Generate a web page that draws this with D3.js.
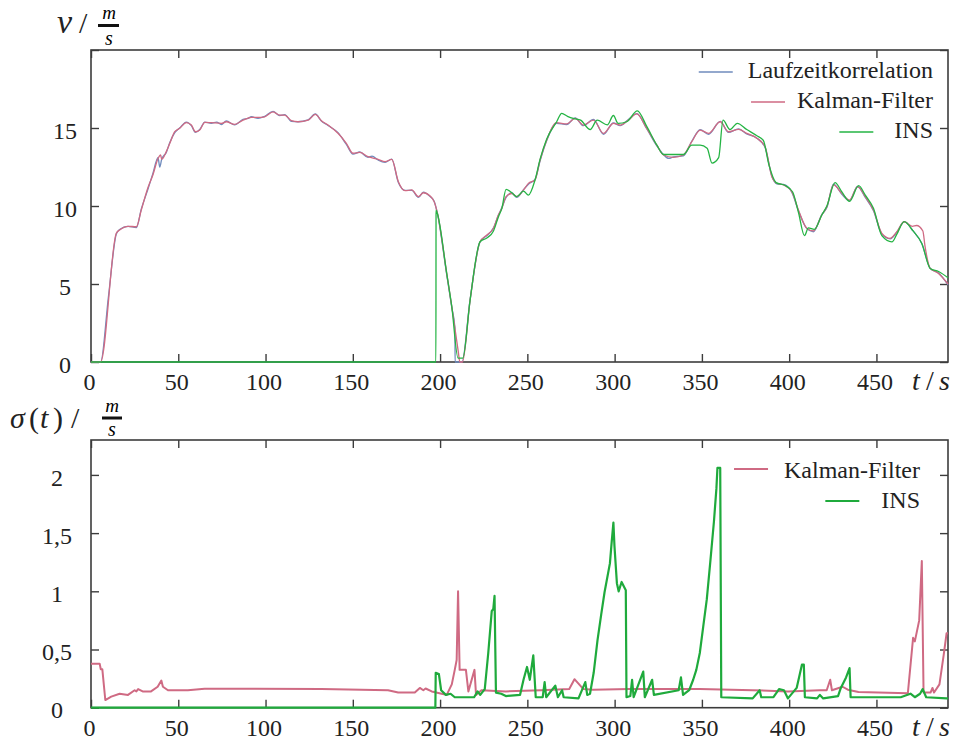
<!DOCTYPE html>
<html>
<head>
<meta charset="utf-8">
<script src="https://cdn.jsdelivr.net/npm/d3@7"></script>
<style>
  body { margin: 0; background: #fff; }
</style>
</head>
<body>
<svg id="chart" width="954" height="742" font-family="'Liberation Serif', serif"></svg>
<script>
// tick values
var xTicks = [0, 50, 100, 150, 200, 250, 300, 350, 400, 450]
var vTicks = [0, 5, 10, 15, 20]
var vTickLabels = ["0", "5", "10", "15", ""]
var sTicks = [0, 0.5, 1, 1.5, 2]
var sTickLabels = ["0", "0,5", "1", "1,5", "2"]

// top panel: v in m/s over t in s  [t, v]
var vLaufzeit = [[0,0],[5.5,0],[10,4.2],[14.5,8.2],[16.4,8.5],[21.2,8.7],[26,8.62],[28.8,9.8],[32.7,11.1],[35.5,12.1],[38.4,13.1],[39.4,12.5],[40.5,13.0],[43.2,13.45],[45.1,14.05],[48,14.7],[50.8,15.0],[54.6,15.38],[57.5,15.15],[59.8,14.72],[62.3,14.9],[65.2,15.38],[68.9,15.3],[72,15.38],[74.7,15.22],[77.5,15.45],[82.3,15.2],[87.1,15.55],[90,15.62],[91.9,15.72],[95.7,15.62],[99.5,15.75],[104.3,16.06],[108.1,15.8],[111,15.86],[114.8,15.42],[118.6,15.4],[124.4,15.52],[128.5,15.9],[132,15.45],[135.8,15.16],[141.5,14.7],[146.3,13.95],[150.1,13.33],[154,13.46],[158.7,13.12],[161,13.2],[164.5,12.95],[168.5,12.8],[172.3,13.0],[176.1,11.5],[179.9,11.0],[183.8,11.0],[187.6,10.55],[190.4,10.88],[194.3,10.6],[196.6,10.3],[198.5,9.5],[203.8,5.6],[206.7,3.5],[208.5,2.2],[208.6,0],[212.5,0],[217.2,4.0],[222.9,7.7],[226.8,8.1],[230.6,8.6],[233.4,9.4],[235.4,9.9],[237.8,10.55],[241.1,10.85],[243.9,10.55],[247.8,11.05],[250.6,11.4],[254.4,11.7],[257.3,12.9],[261.1,14.2],[266.8,15.3],[272.5,15.22],[277.4,15.65],[282.1,15.15],[287.9,15.55],[293.6,14.6],[299.3,15.32],[303.2,15.15],[307.9,15.55],[312.7,15.92],[318.4,14.95],[324.2,13.85],[328,13.3],[331,13.05],[333.7,13.15],[339.4,13.22],[344.2,14.15],[349,14.9],[353.8,14.6],[360.5,15.42],[365.2,14.72],[371,14.95],[375.7,14.62],[381.5,14.35],[386.2,13.75],[390.1,11.9],[392.9,11.42],[396.7,11.38],[401.5,10.88],[405.3,9.7],[410.1,8.55],[413.9,8.35],[418.7,9.45],[421.6,9.9],[425.4,11.4],[430.2,10.75],[434.6,10.35],[439.2,11.25],[443.6,10.55],[448.3,9.7],[453.1,8.2],[457.9,7.9],[461.7,8.32],[465.9,9.0],[471,8.4],[476,7.6],[480.8,6.0],[485.6,5.7],[491,4.95]]
var vKalman = [[0,0],[5.5,0],[14.5,8.25],[16.4,8.46],[21.2,8.7],[26,8.67],[28.8,9.74],[32.7,11.2],[35.5,12.0],[38.4,13.05],[39.9,13.27],[40.5,13.0],[43.2,13.5],[45.1,14.0],[48,14.76],[50.8,14.98],[54.6,15.34],[57.5,15.19],[59.8,14.76],[62.3,14.87],[65.2,15.36],[68.9,15.34],[74.7,15.3],[77.5,15.4],[82.3,15.23],[87.1,15.5],[91.9,15.68],[95.7,15.68],[99.5,15.72],[104.3,16.04],[108.1,15.83],[111,15.83],[114.8,15.47],[118.6,15.4],[124.4,15.5],[128.5,15.87],[132,15.47],[135.8,15.19],[141.5,14.66],[146.3,14.02],[150.1,13.38],[154,13.44],[158.7,13.16],[164.5,12.99],[168.5,12.84],[172.3,12.99],[176.1,11.56],[179.9,10.98],[183.8,11.03],[187.6,10.6],[190.4,10.85],[194.3,10.64],[196.6,10.28],[198.5,9.53],[203.8,5.68],[206.7,3.55],[210.5,0.6],[211.3,0],[212.8,0],[217.2,3.97],[222.9,7.71],[226.8,8.14],[230.6,8.57],[233.4,9.42],[235.4,9.85],[237.8,10.6],[241.1,10.8],[243.9,10.6],[247.8,11.03],[250.6,11.45],[254.4,11.67],[257.3,12.95],[261.1,14.23],[266.8,15.34],[272.5,15.26],[277.4,15.62],[282.1,15.19],[287.9,15.51],[293.6,14.66],[299.3,15.3],[303.2,15.19],[307.9,15.51],[312.7,15.9],[318.4,14.98],[324.2,13.9],[328,13.27],[333.7,13.12],[339.4,13.27],[344.2,14.12],[349,14.87],[353.8,14.66],[360.5,15.4],[365.2,14.76],[371,14.91],[375.7,14.66],[381.5,14.34],[386.2,13.8],[390.1,11.88],[392.9,11.46],[396.7,11.35],[401.5,10.92],[405.3,9.74],[410.1,8.57],[413.9,8.4],[418.7,9.42],[421.6,9.96],[425.4,11.35],[430.2,10.81],[434.6,10.38],[439.2,11.24],[443.6,10.6],[448.3,9.74],[453.1,8.25],[457.9,7.93],[461.7,8.35],[465.9,8.99],[470.5,8.7],[473,8.75],[476.6,8.4],[477.8,7.45],[480.8,6.0],[485.6,5.68],[491,5.0]]
var vIns = [[0,0],[197.6,0],[197.7,9.74],[198.5,9.5],[203.8,5.68],[206.7,3.55],[210.3,0.25],[213,0.25],[217.2,3.97],[222.9,7.71],[226.8,7.95],[230.6,8.4],[233.4,9.3],[235.4,9.85],[237.8,11.06],[241.1,10.85],[243.9,10.6],[247.8,10.95],[250.6,10.7],[254.4,11.67],[257.3,13.0],[261.1,14.3],[266.8,15.4],[269.7,15.94],[273,15.75],[276.8,15.6],[280.5,15.5],[286,14.9],[290,15.5],[295.8,15.2],[299.3,15.8],[302,15.3],[306.9,15.4],[313,16.1],[318.4,15.1],[324.2,13.9],[328,13.3],[333.7,13.3],[339.4,13.3],[344.2,13.9],[349,13.9],[353,13.7],[355.8,12.75],[359.6,13.1],[362.1,15.5],[366.1,14.9],[370.3,15.3],[375.7,14.9],[381.5,14.5],[385.2,14.2],[388.5,12.6],[392.5,11.5],[398,11.3],[402,10.9],[405.3,9.6],[408.8,8.1],[411,8.6],[414.4,8.5],[418.7,9.42],[421.6,10.0],[426.3,11.5],[430.2,10.9],[434.6,10.3],[439.8,11.3],[443.6,10.7],[448.3,9.85],[453.1,8.1],[458.9,7.7],[461.7,8.2],[465.9,9.0],[471,8.4],[476,7.6],[480.8,6.0],[485.6,5.8],[491,5.4]]

// bottom panel: sigma(t) in m/s  [t, sigma]
var sKalman = [[0,0.377],[5,0.377],[5.6,0.33],[6.5,0.33],[8.2,0.066],[11.6,0.095],[16.4,0.12],[21.2,0.11],[25,0.15],[26,0.14],[27,0.16],[29.6,0.14],[34.4,0.14],[38.2,0.18],[40.3,0.233],[41.2,0.18],[44.1,0.15],[55.5,0.15],[65.1,0.162],[93.8,0.163],[132,0.16],[170.2,0.15],[176,0.13],[185.5,0.13],[188.4,0.17],[190.4,0.15],[191.7,0.165],[195.2,0.14],[200.9,0.12],[203.8,0.11],[206.7,0.2],[208.4,0.325],[209.5,0.41],[210.3,1.0],[211.2,0.325],[214.8,0.325],[216.2,0.14],[219.7,0.325],[220.6,0.11],[223.7,0.15],[237.7,0.14],[257.9,0.15],[274,0.16],[277,0.245],[282.1,0.16],[287.6,0.155],[308.4,0.16],[348.8,0.16],[379.1,0.15],[399.3,0.14],[417.5,0.15],[421.5,0.15],[423.5,0.24],[424.5,0.15],[430.6,0.18],[433.6,0.155],[439.7,0.135],[468,0.125],[471,0.6],[472,0.57],[474.5,0.75],[476,1.26],[477,0.13],[481,0.13],[482.1,0.17],[483,0.13],[486.1,0.2],[488.5,0.45],[490.2,0.64],[491,0.64]]
var sIns = [[0,0],[197.3,0],[197.5,0.3],[199.3,0.29],[200.6,0.15],[203.3,0.11],[206,0.12],[208.4,0.09],[212.4,0.09],[219.5,0.09],[221.5,0.14],[223,0.11],[225.6,0.16],[227.6,0.47],[229.6,0.83],[230.5,0.85],[231.2,0.96],[232,0.13],[235,0.12],[237.7,0.1],[245.8,0.11],[247.8,0.24],[249.8,0.35],[251.4,0.24],[253.4,0.45],[254.8,0.09],[258.8,0.09],[259.9,0.22],[260.8,0.09],[266,0.19],[267.5,0.09],[269.9,0.15],[270.8,0.09],[279.3,0.08],[283.2,0.22],[284.3,0.11],[285.9,0.12],[288,0.3],[290.2,0.58],[292.3,0.8],[294.2,0.99],[297.3,1.24],[298.3,1.42],[299.3,1.59],[299.9,1.39],[301.3,1.07],[302.3,1.0],[304,1.08],[306.4,1.01],[306.8,0.09],[309,0.1],[310,0.24],[310.9,0.09],[316.4,0.31],[317.3,0.09],[321.5,0.24],[322.5,0.11],[336.7,0.15],[338,0.26],[339.2,0.11],[342.7,0.15],[345,0.24],[346.8,0.325],[348.8,0.47],[350.8,0.7],[352.8,0.93],[354.8,1.25],[356.9,1.6],[358.3,1.88],[358.9,2.06],[360.5,2.06],[361.1,0.09],[379.1,0.08],[383.1,0.15],[384,0.09],[391,0.09],[394.2,0.16],[397,0.15],[399.3,0.08],[404.3,0.17],[407.3,0.37],[408.4,0.37],[409,0.09],[416,0.08],[417.6,0.11],[419.5,0.08],[428,0.1],[429.6,0.17],[432.6,0.26],[434.6,0.34],[435.2,0.09],[463.9,0.09],[469.5,0.12],[472,0.09],[475,0.12],[476.5,0.16],[478.5,0.09],[490.2,0.08],[491,0.08]]

var cBlue = "#6f8bbd", cRed = "#cf6a83", cGreen = "#25b444", cGreenDark = "#1faa3c"
var axisColor = "#3c3c3c"
var serif = "'Liberation Serif', serif"

var svg = d3.select("#chart")

var x = d3.scaleLinear().domain([0, 491]).range([91, 948])
var yTop = d3.scaleLinear().domain([0, 20]).range([362, 50])
var yBot = d3.scaleLinear().domain([0, 2.3]).range([707.7, 440])

function panel(y, yTicks, yLabels, labelX){
	var x0 = x.range()[0], x1 = x.range()[1]
	var yb = y.range()[0], yt = y.range()[1]
	var g = svg.append("g")

	var gx = g.append("g").attr("transform", "translate(0," + yb + ")")
		.call(d3.axisBottom(x).tickValues(xTicks).tickSize(-8).tickPadding(11))
	g.append("g").attr("transform", "translate(0," + yt + ")")
		.call(d3.axisTop(x).tickValues(xTicks).tickSize(-8).tickFormat(""))
	var gy = g.append("g").attr("transform", "translate(" + x0 + ",0)")
		.call(d3.axisLeft(y).tickValues(yTicks).tickSize(-8)
			.tickFormat(function(d, i){ return yLabels[i] }))
	g.append("g").attr("transform", "translate(" + x1 + ",0)")
		.call(d3.axisRight(y).tickValues(yTicks).tickSize(-8).tickFormat(""))

	g.selectAll("g").attr("font-family", serif).attr("font-size", 24)
	g.selectAll(".domain").remove()
	g.selectAll(".tick line").attr("stroke", axisColor).attr("stroke-width", 1.4)
	g.selectAll(".tick text").attr("fill", "#222")
	gx.selectAll(".tick text").attr("dx", -2)
	gy.selectAll(".tick text").attr("text-anchor", "middle").attr("x", labelX - x0).attr("dy", "0.42em")

	g.append("rect")
		.attr("x", x0).attr("y", yt).attr("width", x1 - x0).attr("height", yb - yt)
		.attr("fill", "none").attr("stroke", axisColor).attr("stroke-width", 1.6)

	// t / s
	var tl = g.append("text").attr("y", yb + 28).attr("font-size", 28).attr("fill", "#222")
	tl.append("tspan").attr("x", 912).attr("font-style", "italic").text("t")
	tl.append("tspan").attr("x", 926).text("/")
	tl.append("tspan").attr("x", 939).attr("font-style", "italic").text("s")
	return g
}

function series(g, y, data, color, width, curve){
	var line = d3.line().curve(curve)
		.x(function(d){ return x(d[0]) }).y(function(d){ return y(d[1]) })
	g.append("path").datum(data)
		.attr("d", line).attr("fill", "none")
		.attr("stroke", color).attr("stroke-width", width)
		.attr("stroke-linejoin", "round")
}

function legend(g, items, right, width){
	items.forEach(function(it){
		var t = g.append("text").attr("x", right).attr("y", it.y).attr("fill", "#222")
			.attr("text-anchor", "end").attr("font-size", 24).text(it.name)
		var w = t.node().getComputedTextLength()
		var xe = right - w - it.gap
		g.append("line").attr("x1", xe - 34).attr("x2", xe)
			.attr("y1", it.y - it.off).attr("y2", it.y - it.off)
			.attr("stroke", it.color).attr("stroke-width", width)
	})
}

// top panel
var gTop = panel(yTop, vTicks, vTickLabels, 65)
series(gTop, yTop, vLaufzeit, cBlue, 1.3, d3.curveMonotoneX)
series(gTop, yTop, vKalman, cRed, 1.3, d3.curveMonotoneX)
series(gTop, yTop, vIns, cGreen, 1.3, d3.curveMonotoneX)
legend(gTop, [
	{name: "Laufzeitkorrelation", color: cBlue, y: 78, gap: 15, off: 6},
	{name: "Kalman-Filter", color: cRed, y: 108, gap: 12, off: 6},
	{name: "INS", color: cGreen, y: 138, gap: 21, off: 6}
], 933, 1.4)

// bottom panel
var gBot = panel(yBot, sTicks, sTickLabels, 57)
series(gBot, yBot, sKalman, cRed, 2, d3.curveLinear)
series(gBot, yBot, sIns, cGreenDark, 2.2, d3.curveLinear)
legend(gBot, [
	{name: "Kalman-Filter", color: cRed, y: 478, gap: 16, off: 9},
	{name: "INS", color: cGreenDark, y: 508, gap: 22, off: 7}
], 920, 2.2)

// axis titles
var vt = svg.append("text").attr("y", 33).attr("font-size", 34).attr("fill", "#222")
vt.append("tspan").attr("x", 57).attr("font-style", "italic").text("v")
vt.append("tspan").attr("x", 79).attr("font-size", 30).text("/")
svg.append("text").attr("x", 109).attr("y", 19).attr("text-anchor", "middle")
	.attr("font-size", 19).attr("font-style", "italic").text("m")
svg.append("line").attr("x1", 98).attr("x2", 119).attr("y1", 25.5).attr("y2", 25.5)
	.attr("stroke", "#111").attr("stroke-width", 3)
svg.append("text").attr("x", 109).attr("y", 45).attr("text-anchor", "middle")
	.attr("font-size", 20).attr("font-style", "italic").text("s")

var st = svg.append("text").attr("y", 428).attr("font-size", 30).attr("fill", "#222")
st.append("tspan").attr("x", 10).attr("font-style", "italic").text("σ")
st.append("tspan").attr("x", 29).text("(")
st.append("tspan").attr("x", 40).attr("font-style", "italic").text("t")
st.append("tspan").attr("x", 53).text(")")
st.append("tspan").attr("x", 71).text("/")
svg.append("text").attr("x", 112).attr("y", 412).attr("text-anchor", "middle")
	.attr("font-size", 19).attr("font-style", "italic").text("m")
svg.append("line").attr("x1", 102).attr("x2", 122).attr("y1", 418).attr("y2", 418)
	.attr("stroke", "#111").attr("stroke-width", 3)
svg.append("text").attr("x", 112).attr("y", 436).attr("text-anchor", "middle")
	.attr("font-size", 20).attr("font-style", "italic").text("s")
</script>
</body>
</html>
